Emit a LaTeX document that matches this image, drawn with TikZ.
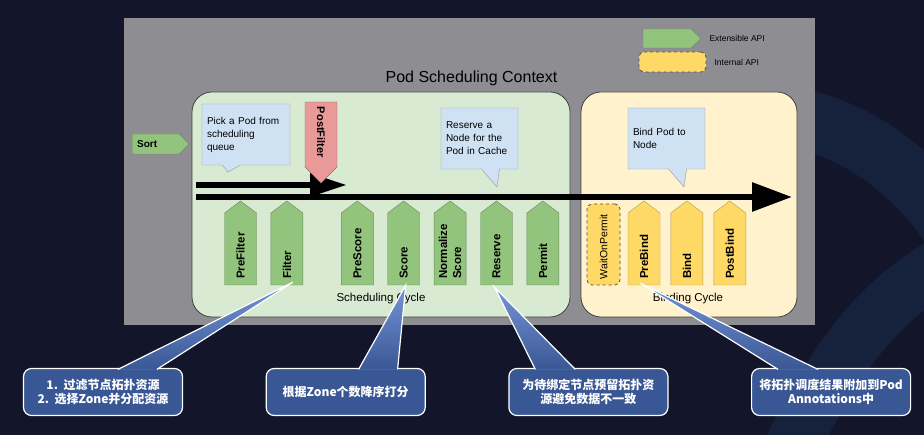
\documentclass[tikz,border=0pt]{standalone}
\usepackage{fontspec}
\setmainfont{Liberation Sans}
\newfontfamily\cjk{Noto Sans CJK SC}
\usepackage{tikz}
\usetikzlibrary{shapes, shapes.symbols, shapes.callouts, arrows.meta, positioning, calc}
\definecolor{bgnavy}{RGB}{19,22,42}
\definecolor{bandblue}{RGB}{22,34,60}
\definecolor{panelgray}{RGB}{142,141,146}
\definecolor{schedgreen}{RGB}{217,234,211}
\definecolor{bindyellow}{RGB}{255,242,204}
\definecolor{extgreen}{RGB}{147,196,125}
\definecolor{extedge}{RGB}{106,140,92}
\definecolor{intyellow}{RGB}{255,217,102}
\definecolor{intedge}{RGB}{176,152,80}
\definecolor{postred}{RGB}{234,153,153}
\definecolor{postedge}{RGB}{150,105,105}
\definecolor{notelight}{RGB}{207,226,243}
\definecolor{tipblue}{RGB}{58,87,149}
\definecolor{tiplight}{RGB}{118,150,214}

\tikzset{
  cyclebox/.style={draw=black!75, line width=0.8pt, rounded corners=20pt},
  cycletext/.style={font=\fontsize{11.5}{13}\selectfont, inner sep=0pt},
  greenarrow/.style={signal, draw=extedge, fill=extgreen, inner sep=0pt},
  yellowarrow/.style={signal, draw=intedge, fill=intyellow, inner sep=0pt},
  upstage/.style={signal to=north, signal pointer angle=106, minimum width=32pt, minimum height=72pt},
  waitbox/.style={draw=black!70, dashed, line width=0.8pt, fill=intyellow, rounded corners=5pt},
  stagetext/.style={rotate=90, anchor=west, inner sep=0pt, align=left, font=\bfseries\fontsize{11.5}{14}\selectfont},
  downtext/.style={rotate=-90, anchor=west, inner sep=0pt, font=\bfseries\fontsize{11}{13}\selectfont},
  legendtext/.style={anchor=west, inner sep=0pt, font=\fontsize{8.5}{10}\selectfont},
  note/.style={rectangle callout, draw=black!40, fill=notelight, inner sep=5pt, align=left,
    minimum height=61pt, callout pointer width=18pt, font=\fontsize{10}{13}\selectfont},
  flowline/.style={line width=6pt},
  tipbox/.style={draw=white, line width=1.2pt, fill=tipblue, rounded corners=8pt,
    minimum width=159pt, minimum height=47pt, text=white, align=center,
    font=\cjk\bfseries\fontsize{12}{14}\selectfont},
  wedge/.style={draw=white, line width=1.2pt, top color=tiplight, bottom color=tipblue}
}

\begin{document}
\begin{tikzpicture}[x=1pt, y=-1pt]
\useasboundingbox (0,0) rectangle (924,435);
\fill[bgnavy] (0,0) rectangle (924,435);
% faint background bands
\begin{scope}
  \clip (0,0) rectangle (924,435);
  \draw[bandblue, line width=60pt] (690,120) .. controls (800,95) and (890,140) .. (950,225);
  \draw[bandblue, line width=55pt] (790,450) .. controls (840,350) and (880,300) .. (950,260);
\end{scope}

\fill[panelgray] (124,18) rectangle (815,325);

% legend
\node[greenarrow, signal to=east, signal pointer angle=87, minimum width=58pt, minimum height=19pt] (legext) at (667,38.5) {};
\node[legendtext, right=8pt of legext] (legexttxt) {Extensible API};
\node[waitbox, minimum width=67pt, minimum height=20pt] (legint) at (672.5,62) {};
\node[legendtext, right=8pt of legint] (leginttxt) {Internal API};

\node[font=\fontsize{16}{19}\selectfont, inner sep=0pt] (ctxtitle) at (471.5,78) {Pod Scheduling Context};

% cycles
\node[cyclebox, fill=schedgreen, minimum width=378pt, minimum height=225pt] (schedcycle) at (381,204.5) {};
\node[cyclebox, fill=bindyellow, minimum width=216pt, minimum height=225pt] (bindcycle) at (689,204.5) {};
\node[cycletext] (schedtxt) at (381,299) {Scheduling Cycle};
\node[cycletext] (bindtxt) at (688,299) {Binding Cycle};

\node[greenarrow, signal to=east, signal pointer angle=90, minimum width=47pt, minimum height=20pt,
  inner xsep=5pt, text width=37pt, anchor=west, font=\bfseries\fontsize{10}{12}\selectfont] (sort) at (132,144) {Sort};

% notes
\node[note, text width=78pt, callout absolute pointer={(228,172)}] (picknote) at (246,134.5) {Pick a Pod from\\scheduling\\queue};
\node[note, text width=67pt, callout absolute pointer={(497,187)}] (reservenote) at (479.5,138.5) {Reserve a\\Node for the\\Pod in Cache};
\node[note, text width=67pt, callout absolute pointer={(684,187)}] (bindnote) at (666.5,138.5) {Bind Pod to\\Node};

% flow
\coordinate (pickstart) at (196,185);
\coordinate (pickend) at (347,185);
\coordinate (flowstart) at (196,197);
\coordinate (flowend) at (792,197);
\draw[flowline, -{Triangle[length=37pt, width=22pt]}] (pickstart) -- (pickend);
\draw[flowline, -{Triangle[length=40pt, width=28pt]}] (flowstart) -- (flowend);

\node[signal, signal to=south, signal pointer angle=90, draw=postedge, fill=postred, inner sep=0pt,
  minimum width=32pt, minimum height=65pt] (postfilter) at (321,134.5) {};
\node[downtext] (postfiltertxt) at ([yshift=-5pt]postfilter.north) {PostFilter};

% extension points
\node[greenarrow, upstage] (prefilter) at (240.5,249) {};
\node[greenarrow, upstage, right=14pt of prefilter] (filter) {};
\node[greenarrow, upstage, right=38pt of filter] (prescore) {};
\node[greenarrow, upstage, right=14pt of prescore] (score) {};
\node[greenarrow, upstage, right=14pt of score] (normscore) {};
\node[greenarrow, upstage, right=14pt of normscore] (reserve) {};
\node[greenarrow, upstage, right=14pt of reserve] (permit) {};

\node[waitbox, minimum width=33pt, minimum height=81pt] (waitpermit) at (603.5,244.5) {};
\node[yellowarrow, upstage] (prebind) at (644,249) {};
\node[yellowarrow, upstage, right=10.5pt of prebind] (bind) {};
\node[yellowarrow, upstage, right=10.5pt of bind] (postbind) {};

\foreach \st/\txt in {prefilter/PreFilter, filter/Filter, prescore/PreScore, score/Score,
    normscore/{Normalize\\Score}, reserve/Reserve, permit/Permit,
    prebind/PreBind, bind/Bind, postbind/PostBind}
  \node[stagetext] (\st txt) at ([yshift=6pt]\st.south) {\txt};
\node[stagetext, font=\fontsize{10.5}{13}\selectfont] (waitpermittxt) at ([yshift=6pt]waitpermit.south) {WaitOnPermit};

% remarks
\node[tipbox] (tipfilter) at (103,392) {1.\ \ 过滤节点拓扑资源\\2.\ \ 选择Zone并分配资源};
\node[tipbox, right=82.5pt of tipfilter] (tipscore) {根据Zone个数降序打分};
\node[tipbox, right=82.5pt of tipscore] (tipreserve) {为待绑定节点预留拓扑资\\源避免数据不一致};
\node[tipbox, right=82.5pt of tipreserve] (tipprebind) {将拓扑调度结果附加到Pod\\Annotations中};

\draw[wedge] ([xshift=95pt, yshift=-1.5pt]tipfilter.north west) -- ([xshift=6pt, yshift=3pt]filter.south)
  -- ([xshift=134pt, yshift=-1.5pt]tipfilter.north west);
\draw[wedge] ([xshift=93pt, yshift=-1.5pt]tipscore.north west) -- ([xshift=2pt]score.south)
  -- ([xshift=132pt, yshift=-1.5pt]tipscore.north west);
\draw[wedge] ([xshift=27pt, yshift=-1.5pt]tipreserve.north west) -- ([xshift=-2pt, yshift=-2pt]reserve.south)
  -- ([xshift=67pt, yshift=-1.5pt]tipreserve.north west);
\draw[wedge] ([xshift=27pt, yshift=-1.5pt]tipprebind.north west) -- ([xshift=-4pt, yshift=2pt]prebind.south)
  -- ([xshift=67pt, yshift=-1.5pt]tipprebind.north west);
\end{tikzpicture}
\end{document}
